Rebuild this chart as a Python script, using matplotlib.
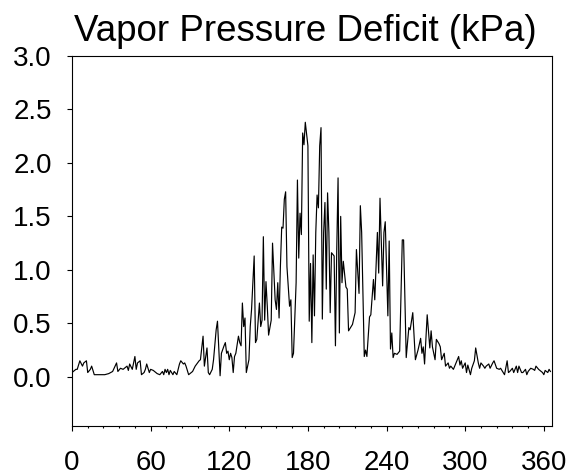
import matplotlib
matplotlib.use("Agg")
import matplotlib.pyplot as plt
from matplotlib.ticker import MultipleLocator

plt.rcParams['font.family'] = ['Liberation Sans', 'DejaVu Sans']

title = "Vapor Pressure Deficit (kPa)"

day = [0, 3, 4, 6, 8, 9, 11, 12, 14, 15, 17, 20, 25, 28, 31, 34, 35, 37, 39, 42,
       43, 44, 46, 48, 49, 50, 52, 53, 55, 56, 57, 59, 60, 62, 65, 67, 69, 70, 71, 72,
       73, 74, 75, 77, 78, 80, 81, 82, 83, 85, 86, 87, 89, 92, 94, 97, 98, 100, 101, 103,
       104, 105, 107, 108, 110, 111, 113, 114, 116, 117, 118, 119, 120, 121, 122, 123, 124, 125, 127, 128,
       129, 130, 131, 132, 133, 135, 136, 137, 139, 140, 141, 143, 144, 145, 146, 147, 148, 149, 150, 152,
       153, 155, 156, 157, 158, 159, 160, 161, 162, 163, 164, 166, 167, 168, 169, 171, 172, 173, 174, 175,
       176, 177, 178, 180, 181, 182, 183, 184, 185, 186, 187, 188, 189, 190, 191, 192, 193, 194, 195, 196,
       197, 198, 200, 201, 202, 203, 204, 205, 206, 207, 209, 210, 211, 214, 216, 217, 219, 220, 221, 223,
       224, 225, 227, 228, 230, 231, 233, 234, 235, 237, 238, 239, 241, 242, 243, 244, 245, 246, 248, 250,
       252, 253, 255, 257, 258, 260, 261, 262, 264, 266, 267, 268, 269, 270, 271, 273, 274, 275, 277, 278,
       280, 281, 282, 284, 285, 287, 288, 289, 291, 292, 293, 295, 296, 297, 298, 300, 301, 302, 304, 305,
       307, 308, 310, 311, 312, 314, 315, 316, 318, 319, 321, 322, 324, 326, 327, 329, 330, 332, 333, 334,
       336, 337, 339, 340, 341, 343, 344, 346, 347, 348, 350, 352, 353, 354, 356, 357, 359, 360, 361, 363,
       364, 365]

vpd = [0.04, 0.07, 0.07, 0.15, 0.10, 0.13, 0.15, 0.04, 0.07, 0.10, 0.02, 0.02, 0.02, 0.03, 0.05, 0.13, 0.05, 0.08, 0.07, 0.10,
       0.06, 0.12, 0.07, 0.19, 0.07, 0.13, 0.15, 0.02, 0.04, 0.07, 0.12, 0.04, 0.07, 0.06, 0.03, 0.02, 0.05, 0.02, 0.07, 0.04,
       0.07, 0.02, 0.06, 0.02, 0.05, 0.02, 0.07, 0.12, 0.15, 0.12, 0.13, 0.10, 0.02, 0.05, 0.10, 0.15, 0.16, 0.38, 0.10, 0.27,
       0.04, 0.02, 0.07, 0.16, 0.44, 0.52, 0.01, 0.22, 0.29, 0.32, 0.22, 0.24, 0.16, 0.22, 0.18, 0.04, 0.19, 0.22, 0.38, 0.32,
       0.29, 0.69, 0.47, 0.55, 0.04, 0.16, 0.47, 0.63, 1.13, 0.32, 0.35, 0.69, 0.47, 0.53, 1.31, 0.53, 0.89, 0.66, 0.39, 0.53,
       1.25, 0.72, 0.63, 0.88, 0.55, 1.03, 1.40, 1.39, 1.66, 1.73, 1.03, 0.66, 0.72, 0.18, 0.22, 0.88, 1.84, 1.11, 1.53, 1.33,
       2.28, 2.17, 2.38, 2.16, 0.52, 1.06, 0.32, 1.14, 0.57, 1.35, 1.70, 1.58, 2.16, 2.33, 0.54, 1.35, 1.63, 0.82, 1.72, 1.35,
       0.60, 1.16, 1.13, 0.29, 1.19, 1.86, 0.41, 1.50, 0.88, 1.08, 0.84, 0.82, 0.43, 0.49, 0.60, 1.19, 0.78, 1.60, 1.35, 0.19,
       0.25, 0.19, 0.56, 0.58, 0.91, 0.72, 1.35, 0.97, 1.67, 0.85, 1.35, 1.45, 0.57, 1.27, 0.26, 0.41, 0.18, 0.22, 0.21, 0.24,
       1.28, 1.28, 0.18, 0.46, 0.44, 0.60, 0.38, 0.16, 0.25, 0.36, 0.22, 0.28, 0.12, 0.35, 0.58, 0.27, 0.43, 0.28, 0.16, 0.35,
       0.31, 0.28, 0.16, 0.22, 0.10, 0.13, 0.08, 0.10, 0.07, 0.10, 0.13, 0.19, 0.11, 0.15, 0.08, 0.13, 0.04, 0.11, 0.02, 0.08,
       0.15, 0.27, 0.13, 0.08, 0.13, 0.10, 0.08, 0.10, 0.12, 0.08, 0.13, 0.15, 0.08, 0.07, 0.08, 0.04, 0.02, 0.15, 0.04, 0.05,
       0.08, 0.04, 0.10, 0.04, 0.10, 0.04, 0.04, 0.07, 0.02, 0.05, 0.08, 0.07, 0.06, 0.10, 0.07, 0.06, 0.04, 0.02, 0.06, 0.04,
       0.07, 0.05]

xticks = [0, 60, 120, 180, 240, 300, 360]
yticks = [0.0, 0.5, 1.0, 1.5, 2.0, 2.5, 3.0]

fig = plt.figure(figsize=(5.7, 4.76), dpi=100)
ax = fig.add_axes([0.1263, 0.105, 0.9679 - 0.1263, 0.8824 - 0.105])
ax.plot(day, vpd, color='black', linewidth=0.85)

ax.set_xlim(0, 366)
ax.set_ylim(-0.46, 3.0)
ax.set_xticks(xticks)
ax.set_xticklabels([str(t) for t in xticks])
ax.set_yticks(yticks)
ax.set_yticklabels([f"{t:.1f}" for t in yticks])
ax.xaxis.set_minor_locator(MultipleLocator(12))

ax.tick_params(axis='both', which='major', direction='out', length=3.5, width=0.8,
               labelsize=20, top=False, right=False)
ax.tick_params(axis='x', which='major', pad=14)
ax.tick_params(axis='y', which='major', pad=11)
ax.tick_params(axis='x', which='minor', direction='out', length=1.5, width=0.8, top=False)

for s in ax.spines.values():
    s.set_linewidth(0.8)

ax.set_title(title, fontsize=26.5, pad=11, x=0.486)

fig.savefig("out.png", dpi=100)
